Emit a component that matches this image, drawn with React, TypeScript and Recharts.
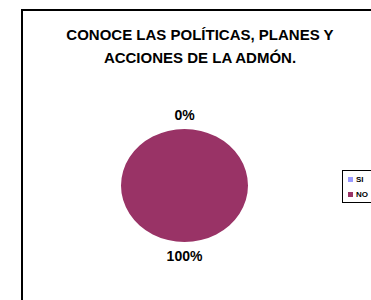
import React from "react";
import { PieChart, Pie, Cell, Legend } from "recharts";

const categories = ["SI", "NO"];
const values = [0, 100];
const colors = ["#9999FF", "#993366"];
const titleLines = ["CONOCE LAS POLÍTICAS, PLANES Y", "ACCIONES DE LA ADMÓN."];

const data = categories.map((name, i) => ({ name, value: values[i] }));

const CX = 184.5;
const CY = 185.5;
const R = 63.5;
const K = 56.5 / 63.5;
const RAD = Math.PI / 180;

const renderLabel = (props: any) => {
  const { midAngle, percent } = props;
  const off = 14;
  const x = CX + (R + off) * Math.cos(-midAngle * RAD);
  const y = CY + (R * K + off) * Math.sin(-midAngle * RAD);
  return (
    <text
      x={x}
      y={y}
      textAnchor="middle"
      dominantBaseline="central"
      fontFamily="'Liberation Sans', Arial, sans-serif"
      fontWeight="bold"
      fontSize={14}
      fill="#000"
    >
      {`${Math.round(percent * 100)}%`}
    </text>
  );
};

const LegendBox = (props: any) => {
  const items = [...(props.payload || [])].sort(
    (a: any, b: any) => categories.indexOf(a.value) - categories.indexOf(b.value)
  );
  return (
    <div
      style={{
        border: "1px solid #000",
        width: 40,
        height: 33,
        boxSizing: "border-box",
        paddingTop: 1,
        paddingLeft: 5,
        background: "#fff",
      }}
    >
      {items.map((p: any, i: number) => (
        <div
          key={i}
          style={{
            display: "flex",
            alignItems: "center",
            height: 15,
            whiteSpace: "nowrap",
            fontFamily: "'Liberation Sans', Arial, sans-serif",
            fontWeight: "bold",
            fontSize: 8,
            color: "#000",
            lineHeight: "15px",
          }}
        >
          <span
            style={{
              display: "inline-block",
              flex: "0 0 auto",
              width: 5,
              height: 5,
              background: p.color,
              marginRight: 3,
            }}
          />
          {p.value}
        </div>
      ))}
    </div>
  );
};

export default function App() {
  return (
    <div
      style={{
        position: "fixed",
        left: 0,
        top: 0,
        width: 371,
        height: 300,
        overflow: "hidden",
        background: "#fff",
      }}
    >
      <style>{`.ell { transform: scaleY(${K}); transform-origin: ${CX}px ${CY}px; }`}</style>
      <div
        style={{
          position: "absolute",
          left: 21,
          top: 9,
          width: 400,
          height: 320,
          borderLeft: "2px solid #000",
          borderTop: "2px solid #000",
        }}
      />
      <div
        style={{
          position: "absolute",
          left: 0,
          top: 23,
          width: 400,
          textAlign: "center",
          fontFamily: "'Liberation Sans', Arial, sans-serif",
          fontWeight: "bold",
          fontSize: 15,
          lineHeight: "23px",
          color: "#000",
        }}
      >
        {titleLines.map((t, i) => (
          <div key={i}>{t}</div>
        ))}
      </div>
      <div style={{ position: "absolute", left: 0, top: 0 }}>
        <PieChart width={371} height={300} margin={{ top: 0, right: 0, bottom: 0, left: 0 }}>
          <Pie
            data={data}
            dataKey="value"
            nameKey="name"
            cx={CX}
            cy={CY}
            outerRadius={R}
            startAngle={90}
            endAngle={-270}
            stroke="none"
            label={renderLabel}
            labelLine={false}
            isAnimationActive={false}
          >
            {data.map((d, i) => (
              <Cell key={d.name} fill={colors[i]} className="ell" />
            ))}
          </Pie>
          <Legend
            content={<LegendBox />}
            wrapperStyle={{ position: "absolute", left: 342, top: 170, width: 40, height: 33 }}
          />
        </PieChart>
      </div>
    </div>
  );
}
